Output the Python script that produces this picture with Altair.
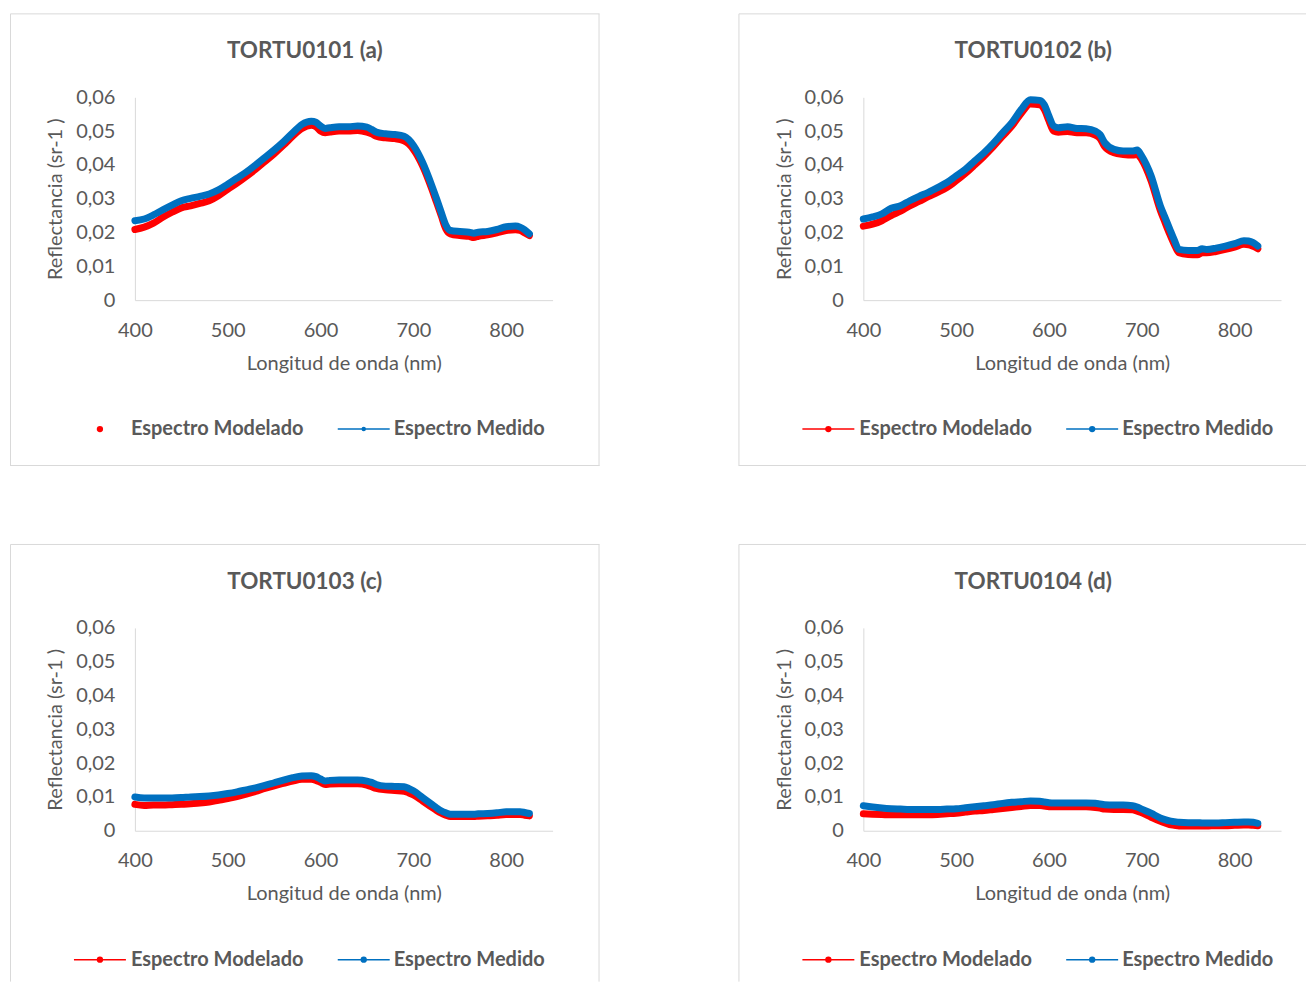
import altair as alt
import pandas as pd

WL = [400, 410, 420, 430, 440, 450, 460, 470, 480, 490, 500, 510, 520, 530, 540, 550,
      560, 570, 580, 590, 595, 600, 605, 610, 620, 630, 640, 650, 655, 660, 670, 680,
      690, 695, 700, 710, 720, 725, 730, 735, 740, 750, 760, 765, 770, 780, 790, 800,
      810, 815, 820, 825]

MED_A = [.0235, .0240, .0252, .0267, .0281, .0294, .0301, .0307, .0314, .0326, .0343, .0361,
         .0379, .0400, .0422, .0444, .0468, .0495, .0520, .0529, .0526, .0515, .0508, .0510,
         .0513, .0513, .0515, .0512, .0505, .0497, .0492, .0490, .0485, .0475, .0458, .0407,
         .0338, .0300, .0260, .0222, .0206, .0203, .0201, .0198, .0201, .0203, .0209, .0217,
         .0219, .0216, .0208, .0196]
MOD_A = [.0209, .0216, .0228, .0245, .0260, .0273, .0279, .0286, .0294, .0309, .0328, .0346,
         .0366, .0387, .0410, .0433, .0458, .0485, .0508, .0517, .0513, .0500, .0495, .0497,
         .0500, .0500, .0502, .0497, .0492, .0485, .0480, .0478, .0471, .0462, .0446, .0397,
         .0328, .0289, .0250, .0211, .0196, .0191, .0189, .0185, .0189, .0193, .0199, .0206,
         .0208, .0206, .0199, .0191]

MED_B = [.0240, .0246, .0255, .0272, .0279, .0294, .0307, .0319, .0333, .0348, .0368, .0387,
         .0412, .0436, .0464, .0495, .0525, .0564, .0593, .0591, .0578, .0544, .0515, .0510,
         .0513, .0508, .0507, .0500, .0490, .0466, .0446, .0441, .0441, .0444, .0426, .0368,
         .0279, .0245, .0211, .0178, .0150, .0147, .0147, .0152, .0150, .0154, .0160, .0167,
         .0176, .0175, .0170, .0160]
MOD_B = [.0219, .0225, .0235, .0250, .0263, .0279, .0292, .0306, .0319, .0333, .0353, .0375,
         .0400, .0426, .0454, .0485, .0515, .0552, .0580, .0578, .0564, .0530, .0500, .0497,
         .0499, .0495, .0495, .0488, .0478, .0454, .0436, .0431, .0429, .0431, .0415, .0353,
         .0265, .0230, .0196, .0165, .0140, .0135, .0134, .0140, .0140, .0144, .0150, .0157,
         .0165, .0164, .0159, .0152]

MED_C = [.0100, .0097, .0097, .0097, .0097, .0098, .0100, .0101, .0103, .0106, .0110, .0115,
         .0121, .0127, .0134, .0142, .0150, .0157, .0162, .0163, .0160, .0153, .0147, .0149,
         .0150, .0150, .0150, .0147, .0143, .0137, .0132, .0131, .0130, .0125, .0118, .0098,
         .0078, .0068, .0059, .0053, .0049, .0049, .0049, .0049, .0050, .0051, .0053, .0056,
         .0056, .0056, .0054, .0051]
MOD_C = [.0078, .0075, .0076, .0076, .0077, .0078, .0080, .0082, .0085, .0090, .0095, .0101,
         .0108, .0116, .0125, .0133, .0140, .0147, .0152, .0152, .0149, .0143, .0137, .0138,
         .0139, .0139, .0139, .0135, .0130, .0125, .0121, .0119, .0117, .0112, .0106, .0088,
         .0069, .0060, .0052, .0046, .0042, .0042, .0042, .0042, .0043, .0044, .0046, .0048,
         .0048, .0048, .0046, .0044]

MED_D = [.0074, .0070, .0067, .0065, .0064, .0063, .0063, .0063, .0063, .0064, .0065, .0068,
         .0071, .0074, .0077, .0081, .0084, .0086, .0088, .0087, .0085, .0083, .0082, .0082,
         .0082, .0082, .0082, .0081, .0079, .0077, .0076, .0076, .0074, .0070, .0064, .0052,
         .0038, .0033, .0029, .0027, .0025, .0024, .0024, .0023, .0023, .0023, .0024, .0025,
         .0026, .0026, .0025, .0022]
MOD_D = [.0050, .0049, .0048, .0047, .0047, .0047, .0047, .0047, .0048, .0050, .0052, .0055,
         .0058, .0060, .0063, .0066, .0069, .0072, .0075, .0075, .0073, .0071, .0071, .0071,
         .0071, .0071, .0071, .0069, .0067, .0064, .0063, .0063, .0062, .0058, .0053, .0040,
         .0028, .0023, .0018, .0016, .0014, .0014, .0014, .0014, .0014, .0015, .0015, .0016,
         .0017, .0017, .0016, .0015]

TITLES = ["TORTU0101 (a)", "TORTU0102 (b)", "TORTU0103 (c)", "TORTU0104 (d)"]
SERIES = ["Espectro Modelado", "Espectro Medido"]
X_TICKS = [400, 500, 600, 700, 800]
Y_TICKS = [0, 0.01, 0.02, 0.03, 0.04, 0.05, 0.06]

RED = "#FF0000"
BLUE = "#0070C0"
TXT = "#595959"
FRAME = "#D9D9D9"
FONT = "Lato"


def panel(title, mod, med, w, h, mod_line=True, right_edge=True, bottom_edge=True):
    df = pd.DataFrame({"wl": WL, "mod": mod, "med": med})
    xs = alt.Scale(domain=[400, 850], range=[125, 543], nice=False, zero=False)
    ys = alt.Scale(domain=[0, 0.06], range=[287, 84], nice=False, zero=False)
    xax = alt.Axis(values=X_TICKS, title="Longitud de onda (nm)", offset=-(h - 287),
                   labelPadding=20, titlePadding=13, labelFlush=False)
    yax = alt.Axis(values=Y_TICKS, title="Reflectancia (sr-1 )", offset=-125,
                   labelPadding=20, titlePadding=10, labelFlush=False,
                   labelExpr="datum.value == 0 ? '0' : replace(format(datum.value, '.2f'), '.', ',')")
    base = alt.Chart(df)
    line_kw = dict(strokeWidth=7, strokeCap="round", strokeJoin="round", interpolate="monotone")
    l_mod = base.mark_line(color=RED, **line_kw).encode(
        x=alt.X("wl:Q", scale=xs, axis=xax),
        y=alt.Y("mod:Q", scale=ys, axis=yax))
    l_med = base.mark_line(color=BLUE, **line_kw).encode(
        x=alt.X("wl:Q", scale=xs, axis=xax),
        y=alt.Y("med:Q", scale=ys, axis=yax))

    one = pd.DataFrame({"t": [title]})
    layers = []
    # panel frame (decoration)
    layers.append(alt.Chart(one).mark_rule(color=FRAME, strokeWidth=1).encode(
        x=alt.value(0.5), x2=alt.value(w), y=alt.value(0.5)))
    layers.append(alt.Chart(one).mark_rule(color=FRAME, strokeWidth=1).encode(
        x=alt.value(0.5), y=alt.value(0.5), y2=alt.value(h)))
    if right_edge:
        layers.append(alt.Chart(one).mark_rule(color=FRAME, strokeWidth=1).encode(
            x=alt.value(w - 0.5), y=alt.value(0.5), y2=alt.value(h)))
    if bottom_edge:
        layers.append(alt.Chart(one).mark_rule(color=FRAME, strokeWidth=1).encode(
            x=alt.value(0.5), x2=alt.value(w), y=alt.value(h - 0.5)))

    layers += [l_mod, l_med]
    layers.append(alt.Chart(one).mark_text(font=FONT, fontSize=22.5, fontWeight="bold", color=TXT,
                                           align="center", baseline="middle").encode(
        x=alt.value(295), y=alt.value(38), text="t:N"))

    leg_y = 416
    names = pd.DataFrame({"n": [SERIES[0]]})
    names2 = pd.DataFrame({"n": [SERIES[1]]})
    if mod_line:
        layers.append(alt.Chart(names).mark_rule(color=RED, strokeWidth=1.5).encode(
            x=alt.value(64), x2=alt.value(116), y=alt.value(leg_y)))
    layers.append(alt.Chart(names).mark_circle(color=RED, opacity=1, size=40).encode(
        x=alt.value(90), y=alt.value(leg_y)))
    layers.append(alt.Chart(names).mark_text(font=FONT, fontSize=20, fontWeight="bold", color=TXT,
                                             align="left", baseline="middle").encode(
        x=alt.value(121), y=alt.value(leg_y), text="n:N"))
    layers.append(alt.Chart(names2).mark_rule(color=BLUE, strokeWidth=1.5).encode(
        x=alt.value(328), x2=alt.value(380), y=alt.value(leg_y)))
    layers.append(alt.Chart(names2).mark_circle(color=BLUE, opacity=1, size=40 if mod_line else 20).encode(
        x=alt.value(354), y=alt.value(leg_y)))
    layers.append(alt.Chart(names2).mark_text(font=FONT, fontSize=20, fontWeight="bold", color=TXT,
                                              align="left", baseline="middle").encode(
        x=alt.value(384), y=alt.value(leg_y), text="n:N"))
    return alt.layer(*layers).properties(width=w, height=h)


pa = panel(TITLES[0], MOD_A, MED_A, 590, 453, mod_line=False)
pb = panel(TITLES[1], MOD_B, MED_B, 568, 453, right_edge=False)
pc = panel(TITLES[2], MOD_C, MED_C, 590, 438, bottom_edge=False)
pd_ = panel(TITLES[3], MOD_D, MED_D, 568, 438, right_edge=False, bottom_edge=False)

row1 = alt.hconcat(pa, pb, spacing=138)
row2 = alt.hconcat(pc, pd_, spacing=138)

chart = alt.vconcat(row1, row2, spacing=77).properties(
    padding={"left": 2, "top": 5, "right": 0, "bottom": 0}
).configure_view(stroke=None).configure_axis(
    grid=False, ticks=False, domainColor="#D9D9D9", domainWidth=1,
    labelFont=FONT, labelFontSize=20, labelColor=TXT,
    titleFont=FONT, titleFontSize=20, titleColor=TXT, titleFontWeight="normal"
)

chart.save("out.html", embed_options={"renderer": "svg", "actions": False})
